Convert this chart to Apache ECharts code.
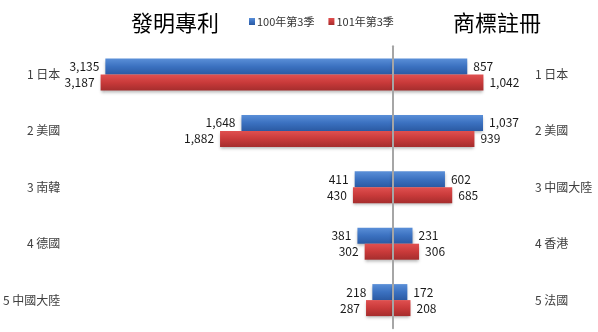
<!DOCTYPE html>
<html><head><meta charset="utf-8">
<script src="https://cdn.jsdelivr.net/npm/echarts@6/dist/echarts.min.js"></script>
<style>html,body{margin:0;padding:0;background:#fff}#c{width:598px;height:332px}</style>
</head><body><div id="c"></div>
<script>
const seriesNames = ['100年第3季', '101年第3季'];
const titleLeft = '發明專利';
const titleRight = '商標註冊';
const categoriesLeft = ['1 日本', '2 美國', '3 南韓', '4 德國', '5 中國大陸'];
const patent100 = [3135, 1648, 411, 381, 218];
const patent101 = [3187, 1882, 430, 302, 287];
const categoriesRight = ['1 日本', '2 美國', '3 中國大陸', '4 香港', '5 法國'];
const trademark100 = [857, 1037, 602, 231, 172];
const trademark101 = [1042, 939, 685, 306, 208];

const FONT = '"Liberation Sans Narrow", "Noto Sans CJK TC", sans-serif';
const fmt = p => Number(p.value).toLocaleString('en-US');
const blue = new echarts.graphic.LinearGradient(0, 0, 0, 1, [
  {offset: 0, color: '#5a8fd8'}, {offset: 0.5, color: '#3b71c0'}, {offset: 1, color: '#2b5aa3'}]);
const red = new echarts.graphic.LinearGradient(0, 0, 0, 1, [
  {offset: 0, color: '#e05050'}, {offset: 0.5, color: '#c93a3a'}, {offset: 1, color: '#a52d2d'}]);
const shadow = {shadowBlur: 3, shadowOffsetY: 2, shadowColor: 'rgba(0,0,0,0.3)'};

function bar(name, data, xi, yi, color, pos) {
  return {
    type: 'bar', name, data, xAxisIndex: xi, yAxisIndex: yi,
    barWidth: 16, barGap: '0%',
    itemStyle: Object.assign({color}, shadow),
    label: {show: true, position: pos, distance: 6, formatter: fmt,
      color: '#1a1a1a', fontSize: 12, fontFamily: FONT},
    z: 2
  };
}

const chart = echarts.init(document.getElementById('c'), null, {renderer: 'canvas'});
chart.setOption({
  animation: false,
  title: [
    {text: titleLeft, left: 170, top: 7, textAlign: 'center',
     textStyle: {fontSize: 22, fontWeight: 'normal', color: '#000', fontFamily: FONT}},
    {text: titleRight, left: 492, top: 7, textAlign: 'center',
     textStyle: {fontSize: 22, fontWeight: 'normal', color: '#000', fontFamily: FONT}}
  ],
  legend: {
    data: seriesNames, left: 244, top: 11, itemWidth: 6, itemHeight: 7, itemGap: 14,
    icon: 'rect', textStyle: {fontSize: 11, color: '#333', fontFamily: FONT, padding: [0, 0, 0, -3]}
  },
  grid: [
    {left: 69.6, top: 46.3, width: 322.7, height: 282},
    {left: 392.3, top: 46.3, width: 134.7, height: 282}
  ],
  xAxis: [
    {gridIndex: 0, type: 'value', min: 0, max: 3500, inverse: true, show: false},
    {gridIndex: 1, type: 'value', min: 0, max: 1540, show: false}
  ],
  yAxis: [
    {gridIndex: 0, type: 'category', data: categoriesLeft, inverse: true, position: 'left',
     axisLine: {show: false}, axisTick: {show: false}, splitLine: {show: false},
     axisLabel: {margin: 11.6, fontSize: 12, color: '#404040', fontFamily: FONT}},
    {gridIndex: 1, type: 'category', data: categoriesRight, inverse: true, position: 'left',
     z: 10, axisLine: {show: true, lineStyle: {color: '#a6a6a6', width: 2}},
     axisTick: {show: false}, axisLabel: {show: false}, splitLine: {show: false}},
    {gridIndex: 1, type: 'category', data: categoriesRight, inverse: true, position: 'right',
     axisLine: {show: false}, axisTick: {show: false}, splitLine: {show: false},
     axisLabel: {margin: 8, fontSize: 12, color: '#404040', fontFamily: FONT}}
  ],
  series: [
    bar(seriesNames[0], patent100, 0, 0, blue, 'left'),
    bar(seriesNames[1], patent101, 0, 0, red, 'left'),
    bar(seriesNames[0], trademark100, 1, 1, blue, 'right'),
    bar(seriesNames[1], trademark101, 1, 1, red, 'right')
  ]
});
</script>
</body></html>
